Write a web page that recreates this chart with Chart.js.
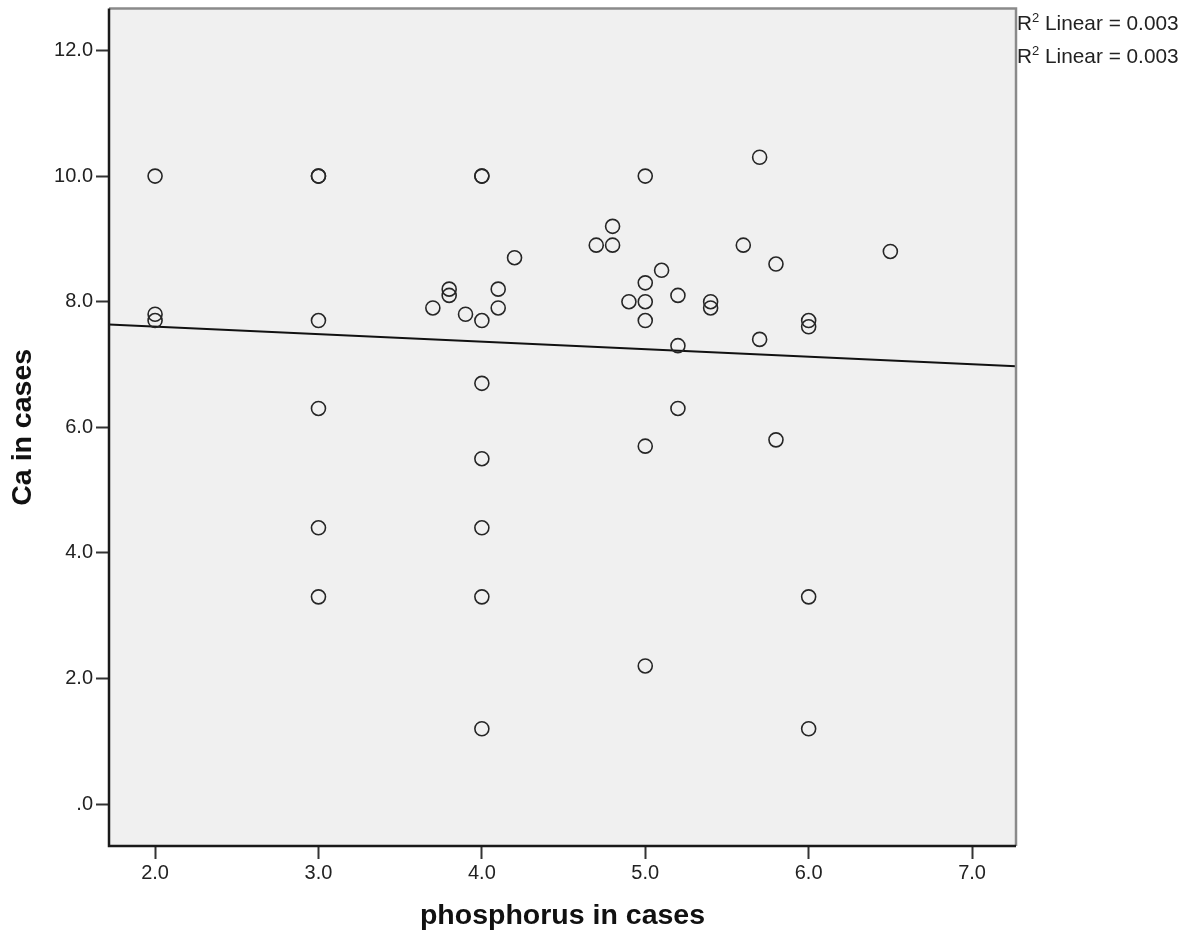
<!DOCTYPE html>
<html>
<head>
<meta charset="utf-8">
<title>Ca in cases vs phosphorus in cases</title>
<script src="https://cdn.jsdelivr.net/npm/chart.js@4.4.1/dist/chart.umd.min.js"></script>
<style>
  body { margin: 0; background: #fff; }
  #wrap { position: relative; width: 1191px; height: 940px; }
  #r2 { position: absolute; left: 1017px; top: 6px; font: 20.8px 'Liberation Sans', Arial, sans-serif; line-height: 33px; color: #222; white-space: nowrap; }
  #r2 sup { font-size: 13px; line-height: 0; }
</style>
</head>
<body>
<div id="wrap">
  <canvas id="scatter" width="1191" height="940"></canvas>
  <div id="r2"></div>
</div>
<script>
// values (x = phosphorus, y = Ca)
const phosphorus = [2, 2, 2,
  3, 3, 3, 3, 3, 3,
  3.7, 3.8, 3.8, 3.9,
  4, 4, 4, 4, 4, 4, 4, 4,
  4.1, 4.1, 4.2, 4.7, 4.8, 4.8, 4.9,
  5, 5, 5, 5, 5, 5,
  5.1, 5.2, 5.2, 5.2, 5.4, 5.4, 5.6, 5.7, 5.7, 5.8, 5.8,
  6, 6, 6, 6, 6.5];
const calcium = [10.0, 7.8, 7.7,
  10.0, 10.0, 7.7, 6.3, 4.4, 3.3,
  7.9, 8.2, 8.1, 7.8,
  10.0, 10.0, 7.7, 6.7, 5.5, 4.4, 3.3, 1.2,
  8.2, 7.9, 8.7, 8.9, 9.2, 8.9, 8.0,
  10.0, 8.3, 8.0, 7.7, 5.7, 2.2,
  8.5, 8.1, 7.3, 6.3, 8.0, 7.9, 8.9, 10.3, 7.4, 8.6, 5.8,
  7.7, 7.6, 3.3, 1.2, 8.8];

const xTicks = [2, 3, 4, 5, 6, 7];
const xTickLabels = ['2.0', '3.0', '4.0', '5.0', '6.0', '7.0'];
const yTicks = [0, 2, 4, 6, 8, 10, 12];
const yTickLabels = ['.0', '2.0', '4.0', '6.0', '8.0', '10.0', '12.0'];
const r2Values = ['0.003', '0.003'];

const xMin = 1.718, xMax = 7.269;
const yMin = -0.667, yMax = 12.667;

const FONT = "'Liberation Sans', Arial, sans-serif";

// least squares line through the points
function linearFit(xs, ys) {
  const n = xs.length;
  let sx = 0, sy = 0, sxx = 0, sxy = 0;
  for (let i = 0; i < n; i++) {
    sx += xs[i]; sy += ys[i];
    sxx += xs[i] * xs[i]; sxy += xs[i] * ys[i];
  }
  const slope = (n * sxy - sx * sy) / (n * sxx - sx * sx);
  const intercept = (sy - slope * sx) / n;
  return x => intercept + slope * x;
}
const fit = linearFit(phosphorus, calcium);

document.getElementById('r2').innerHTML =
  r2Values.map(v => `<div>R<sup>2</sup> Linear = ${v}</div>`).join('');

const plotFrame = {
  id: 'plotFrame',
  beforeDraw(chart) {
    const { ctx, chartArea: a } = chart;
    ctx.save();
    ctx.fillStyle = '#f0f0f0';
    ctx.fillRect(a.left, a.top, a.width, a.height);
    ctx.restore();
  },
  afterDraw(chart) {
    const { ctx, chartArea: a } = chart;
    ctx.save();
    ctx.lineWidth = 2.5;
    ctx.strokeStyle = '#8a8a8a';
    ctx.beginPath();
    ctx.moveTo(a.left, a.top);
    ctx.lineTo(a.right, a.top);
    ctx.lineTo(a.right, a.bottom);
    ctx.stroke();
    ctx.strokeStyle = '#1a1a1a';
    ctx.beginPath();
    ctx.moveTo(a.left, a.top);
    ctx.lineTo(a.left, a.bottom);
    ctx.lineTo(a.right, a.bottom);
    ctx.stroke();
    ctx.restore();
  }
};

const tickFont = { family: FONT, size: 20 };
const titleFont = { family: FONT, size: 28.5, weight: 'bold' };

new Chart(document.getElementById('scatter'), {
  type: 'scatter',
  data: {
    datasets: [{
      label: 'cases',
      data: phosphorus.map((x, i) => ({ x: x, y: calcium[i] })),
      pointRadius: 7,
      pointBorderWidth: 1.6,
      borderColor: '#262626',
      backgroundColor: 'rgba(0,0,0,0)'
    }, {
      type: 'line',
      label: 'Linear',
      data: [{ x: xMin, y: fit(xMin) }, { x: xMax, y: fit(xMax) }],
      borderColor: '#111',
      borderWidth: 2,
      pointRadius: 0,
      fill: false
    }]
  },
  options: {
    responsive: false,
    animation: false,
    layout: { padding: { top: 6, right: 175, bottom: 0, left: 0 } },
    plugins: {
      legend: { display: false },
      tooltip: { enabled: false }
    },
    scales: {
      x: {
        type: 'linear',
        min: xMin,
        max: xMax,
        afterBuildTicks: s => { s.ticks = xTicks.map(v => ({ value: v })); },
        afterFit: s => { s.height = 94; s.paddingLeft = 0; s.paddingRight = 0; },
        border: { display: false },
        grid: { drawOnChartArea: false, drawTicks: true, tickLength: 13, tickWidth: 2, tickColor: '#333' },
        ticks: {
          callback: (v, i) => xTickLabels[i],
          font: tickFont, color: '#222', padding: 2,
          maxRotation: 0, autoSkip: false
        },
        title: { display: true, text: 'phosphorus in cases', font: titleFont, color: '#111', padding: { top: 0, bottom: 7 } }
      },
      y: {
        type: 'linear',
        min: yMin,
        max: yMax,
        afterBuildTicks: s => { s.ticks = yTicks.map(v => ({ value: v })); },
        afterFit: s => { s.width = 109; s.paddingTop = 0; s.paddingBottom = 0; },
        border: { display: false },
        grid: { drawOnChartArea: false, drawTicks: true, tickLength: 13, tickWidth: 2, tickColor: '#333' },
        ticks: {
          callback: (v, i) => yTickLabels[i],
          font: tickFont, color: '#222', padding: 3, autoSkip: false
        },
        title: { display: true, text: 'Ca in cases', font: titleFont, color: '#111', padding: { top: 6, bottom: 0 } }
      }
    }
  },
  plugins: [plotFrame]
});
</script>
</body>
</html>
